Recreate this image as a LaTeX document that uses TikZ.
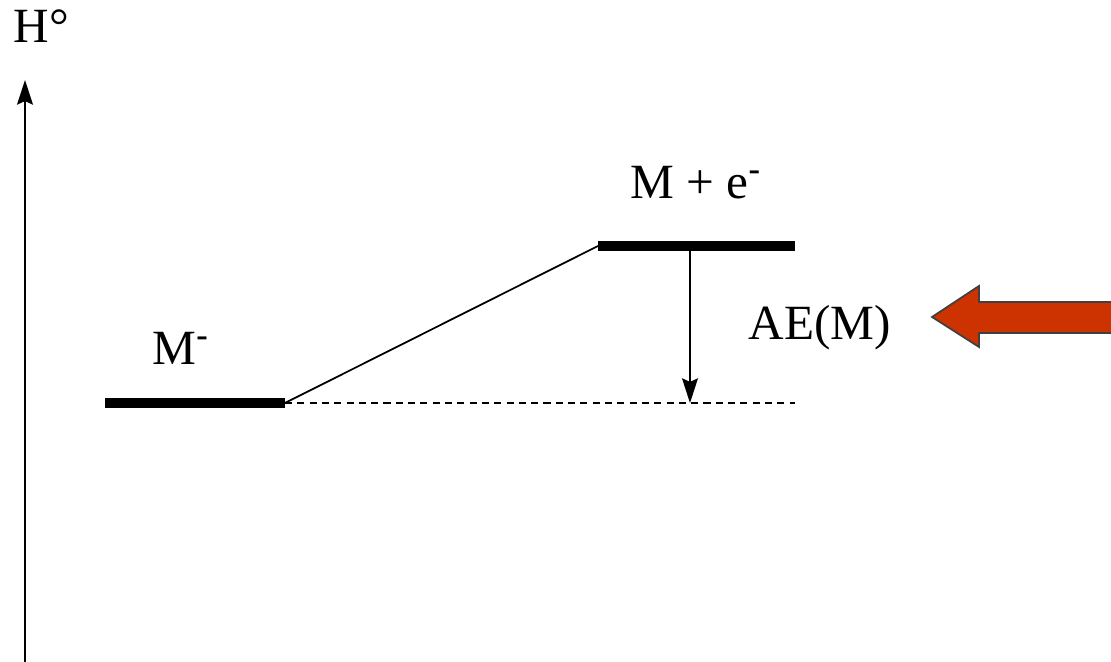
\documentclass[tikz,border=0pt]{standalone}
\usepackage{fontspec}
\setmainfont{Liberation Serif}
\usetikzlibrary{arrows.meta}
\definecolor{aered}{HTML}{CC3300}

\begin{document}
\begin{tikzpicture}[x=0.01cm, y=-0.01cm,
    level/.style={line width=2.8pt},
    lbl/.style={font=\fontsize{14}{17}\selectfont, inner sep=0pt, anchor=base west},
    tip/.style={-{Stealth[length=7pt, width=4.5pt, inset=1pt]}}]
  \useasboundingbox (0,0) rectangle (1111,662);
  \clip (0,0) rectangle (1111,662);
  \coordinate (ax0) at (25,662);
  \coordinate (ax1) at (25,80);
  \draw[line width=0.6pt, tip] (ax0) -- (ax1);
  \node[lbl] (h) at (13,43) {H°};
  \coordinate (lowL) at (105,403);
  \coordinate (lowR) at (285,403);
  \coordinate (highL) at (598,246);
  \coordinate (highR) at (795,246);
  \coordinate (dashE) at (795,403);
  \coordinate (aeTop) at (690,246);
  \coordinate (aeBot) at (690,403);
  \draw[level] (lowL) -- (lowR);
  \draw[level] (highL) -- (highR);
  \draw[line width=0.5pt] (lowR) -- (highL);
  \draw[line width=0.5pt, dash pattern=on 2pt off 1.5pt] (lowR) -- (dashE);
  \draw[line width=0.5pt, tip] (aeTop) -- (aeBot);
  \node[lbl] (mion) at (152,365) {M\textsuperscript{\textbf{-}}};
  \node[lbl] (mfree) at (630,199) {M + e\textsuperscript{\textbf{-}}};
  \node[lbl] (ae) at (748,340) {AE(M)};
  \fill[aered, draw=black!75, line width=0.5pt]
    (932,317) -- (979,286) -- (979,302) -- (1120,302) --
    (1120,333) -- (979,333) -- (979,347) -- cycle;
\end{tikzpicture}
\end{document}
